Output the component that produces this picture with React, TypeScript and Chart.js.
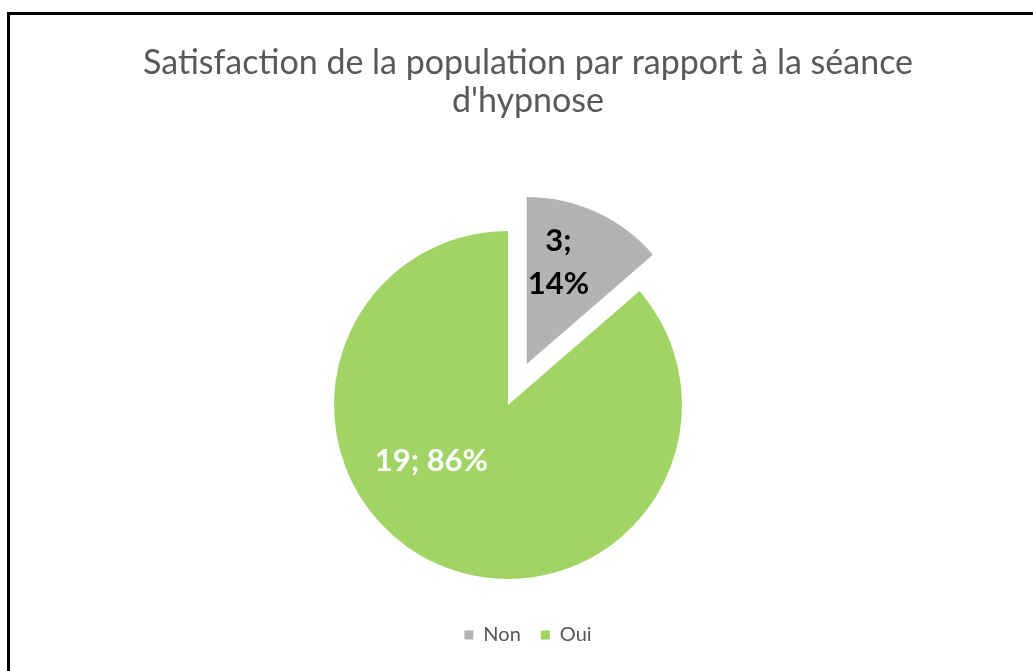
import React, { useEffect, useRef } from 'react';
import { Chart, registerables, layouts } from 'chart.js';

Chart.register(...registerables);

const titleLines = ['Satisfaction de la population par rapport à la séance', "d'hypnose"];
const categories = ['Non', 'Oui'];
const counts = [3, 19];

const sliceColors = ['#b3b3b3', '#a2d465'];
const labelColors = ['#000000', '#ffffff'];
const explodeDistance = [45, 0];
const explodeScale = [0.96, 1];
const labelAngleT = [0.354, 0.5935];
const labelRadiusF = [0.638, 0.547];
const labelWrap = [true, false];

function arcTransform(el: any, i: number) {
  const mid = (el.startAngle + el.endAngle) / 2;
  const d = explodeDistance[i];
  return {
    cx: el.x,
    cy: el.y,
    tx: el.x + Math.cos(mid) * d,
    ty: el.y + Math.sin(mid) * d,
    k: explodeScale[i],
  };
}

const explodePlugin = {
  id: 'explodeSlices',
  beforeDatasetDraw(chart: any, args: any) {
    const ctx = chart.ctx;
    args.meta.data.forEach((el: any, i: number) => {
      const t = arcTransform(el, i);
      ctx.save();
      ctx.translate(t.tx, t.ty);
      ctx.scale(t.k, t.k);
      ctx.translate(-t.cx, -t.cy);
      el.draw(ctx, chart.chartArea);
      ctx.restore();
    });
    return false;
  },
};

const labelPlugin = {
  id: 'sliceLabels',
  afterDatasetsDraw(chart: any) {
    const ctx = chart.ctx;
    const meta = chart.getDatasetMeta(0);
    const total = counts.reduce((a, b) => a + b, 0);
    meta.data.forEach((el: any, i: number) => {
      const a = el.startAngle + (el.endAngle - el.startAngle) * labelAngleT[i];
      const r = el.outerRadius * labelRadiusF[i];
      const px = el.x + Math.cos(a) * r;
      const py = el.y + Math.sin(a) * r;
      const t = arcTransform(el, i);
      const x = t.tx + (px - t.cx) * t.k;
      const y = t.ty + (py - t.cy) * t.k;
      const pct = Math.round((counts[i] / total) * 100);
      const lines = labelWrap[i] ? [`${counts[i]};`, `${pct}%`] : [`${counts[i]}; ${pct}%`];
      ctx.save();
      ctx.font = 'bold 31px Lato';
      ctx.fillStyle = labelColors[i];
      ctx.textAlign = 'center';
      ctx.textBaseline = 'middle';
      lines.forEach((ln, j) => {
        ctx.fillText(ln, x, y + (j - (lines.length - 1) / 2) * 43);
      });
      ctx.restore();
    });
  },
};

const spacerPlugin = {
  id: 'rightSpacer',
  beforeInit(chart: any) {
    const box: any = {
      position: 'right',
      weight: 0,
      fullSize: false,
      options: {},
      left: 0,
      top: 0,
      right: 0,
      bottom: 0,
      width: 0,
      height: 0,
      update(_maxWidth: number, maxHeight: number) {
        this.width = 40;
        this.height = maxHeight;
      },
      isHorizontal() {
        return false;
      },
      draw() {},
    };
    layouts.addBox(chart, box);
  },
};

export default function App() {
  const canvasRef = useRef<HTMLCanvasElement>(null);

  useEffect(() => {
    if (!canvasRef.current) return;
    Chart.defaults.font.family = 'Lato';
    const chart = new Chart(canvasRef.current, {
      type: 'pie',
      data: {
        labels: categories,
        datasets: [
          {
            data: counts,
            backgroundColor: sliceColors,
            borderWidth: 0,
            radius: 174,
          } as any,
        ],
      },
      options: {
        responsive: false,
        animation: false,
        events: [],
        devicePixelRatio: 1,
        layout: { padding: { left: 23, right: 0, top: 0, bottom: 16 } },
        plugins: {
          title: {
            display: true,
            text: titleLines,
            color: '#595959',
            font: { family: 'Lato', size: 34, weight: 'normal', lineHeight: '38px' } as any,
            padding: { top: 44, bottom: 85 },
          },
          legend: {
            display: true,
            position: 'bottom',
            labels: {
              color: '#595959',
              boxWidth: 9,
              boxHeight: 9,
              padding: 20,
              font: { family: 'Lato', size: 20 },
            },
          },
          tooltip: { enabled: false },
        },
      },
      plugins: [spacerPlugin, explodePlugin, labelPlugin],
    });
    return () => chart.destroy();
  }, []);

  return (
    <div
      style={{
        position: 'fixed',
        left: 0,
        top: 0,
        width: 1033,
        height: 671,
        overflow: 'hidden',
        background: '#ffffff',
      }}
    >
      <div
        style={{
          position: 'absolute',
          left: 7,
          top: 12,
          width: 1100,
          height: 720,
          border: '3px solid #000000',
          boxSizing: 'border-box',
        }}
      />
      <canvas
        ref={canvasRef}
        width={1033}
        height={671}
        style={{ position: 'absolute', left: 0, top: 0, width: 1033, height: 671 }}
      />
    </div>
  );
}
